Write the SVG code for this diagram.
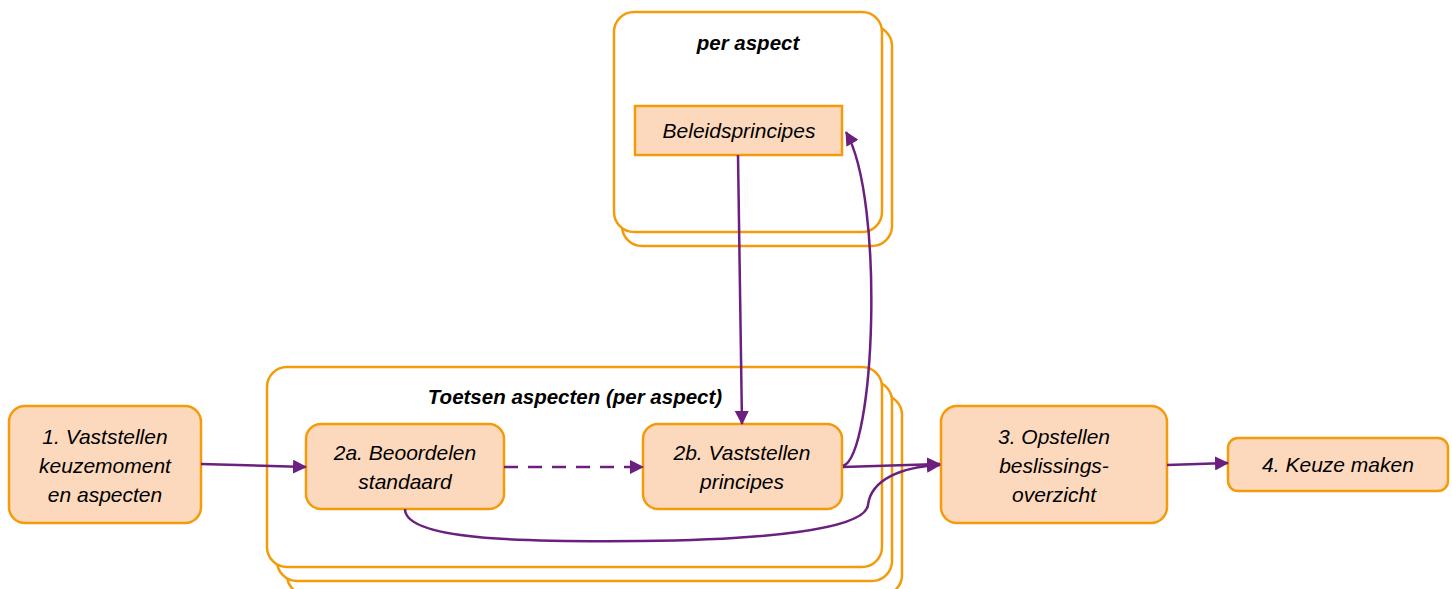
<svg xmlns="http://www.w3.org/2000/svg" width="1452" height="589" viewBox="0 0 1452 589">
<style>
.cont{fill:#fff;stroke:#F49B0C;stroke-width:2.5}
.node{fill:#FCD9BD;stroke:#F49B0C;stroke-width:2.5}
.t{font-family:"Liberation Sans",Arial,sans-serif;font-style:italic;font-size:21px;fill:#000;text-anchor:middle}
.h{font-weight:bold;font-size:20.5px}
.c{fill:none;stroke:#6B1F7E;stroke-width:2.5}
</style>
<defs>
<marker id="ah" markerUnits="userSpaceOnUse" markerWidth="14" markerHeight="14" viewBox="0 0 14 14" refX="13" refY="7" orient="auto">
<path d="M0,0 L14,7 L0,14 Z" fill="#6B1F7E"/>
</marker>
</defs>
<g id="per-aspect">
<rect class="cont" x="622" y="26" width="270" height="220" rx="20"/>
<rect class="cont" x="614" y="12" width="268" height="220" rx="20"/>
<text class="t h" x="748" y="50">per aspect</text>
</g>
<g id="beleidsprincipes">
<rect class="node" x="635" y="106" width="207" height="49"/>
<text class="t" x="739" y="138">Beleidsprincipes</text>
</g>
<g id="toetsen">
<rect class="cont" x="287" y="395" width="615" height="200" rx="20"/>
<rect class="cont" x="277" y="381" width="615" height="200" rx="20"/>
<rect class="cont" x="267" y="367" width="615" height="200" rx="20"/>
<text class="t h" x="575" y="404">Toetsen aspecten (per aspect)</text>
</g>
<g id="n1">
<rect class="node" x="9" y="406" width="192" height="117" rx="16"/>
<text class="t" x="105" y="444">1. Vaststellen</text>
<text class="t" x="105" y="473">keuzemoment</text>
<text class="t" x="105" y="502">en aspecten</text>
</g>
<g id="n2a">
<rect class="node" x="306" y="424" width="198" height="85" rx="15"/>
<text class="t" x="405" y="460">2a. Beoordelen</text>
<text class="t" x="405" y="489">standaard</text>
</g>
<g id="n2b">
<rect class="node" x="643" y="424" width="199" height="85" rx="15"/>
<text class="t" x="742" y="460">2b. Vaststellen</text>
<text class="t" x="742" y="489">principes</text>
</g>
<g id="n3">
<rect class="node" x="941" y="406" width="226" height="117" rx="16"/>
<text class="t" x="1054" y="444">3. Opstellen</text>
<text class="t" x="1054" y="473">beslissings-</text>
<text class="t" x="1054" y="502">overzicht</text>
</g>
<g id="n4">
<rect class="node" x="1228" y="438" width="220" height="53" rx="10"/>
<text class="t" x="1338" y="472">4. Keuze maken</text>
</g>
<g id="connectors">
<path class="c" d="M201,464 L306,467" marker-end="url(#ah)"/>
<path class="c" d="M504,467 L643,467" stroke-dasharray="14,10" marker-end="url(#ah)"/>
<path class="c" d="M738,155 L742,424" marker-end="url(#ah)"/>
<path class="c" d="M843,466 C875,455 885,200 846,132" marker-end="url(#ah)"/>
<path class="c" d="M843,467 L940,464" marker-end="url(#ah)"/>
<path class="c" d="M405,509 C405,540 520,542 640,541 C760,540 865,530 868,505 C871,480 900,467 940,465" marker-end="url(#ah)"/>
<path class="c" d="M1167,465 L1228,463" marker-end="url(#ah)"/>
</g>
</svg>
